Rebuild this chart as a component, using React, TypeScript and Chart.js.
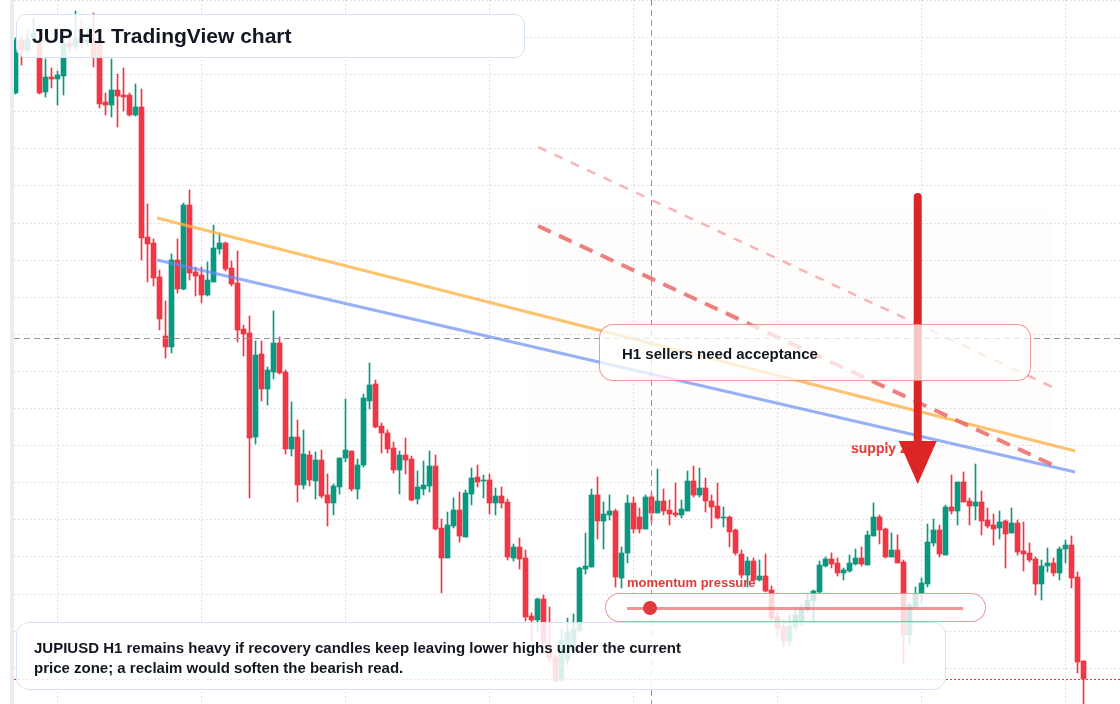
import React, { useEffect, useRef } from 'react';
import { Chart, registerables } from 'chart.js';

Chart.register(...registerables);

// JUPIUSD H1 candles (oldest -> newest)
const opens = [
  0.4907, 0.4960, 0.4950, 0.4962, 0.4957, 0.4908, 0.4923, 0.4921, 0.4924, 0.4957,
  0.4953, 0.4962, 0.4958, 0.4960, 0.4957, 0.4898, 0.4895, 0.4910, 0.4905, 0.4905,
  0.4885, 0.4893, 0.4763, 0.4757, 0.4723, 0.4664, 0.4653, 0.4740, 0.4711, 0.4795,
  0.4728, 0.4725, 0.4705, 0.4718, 0.4751, 0.4757, 0.4732, 0.4717, 0.4671, 0.4667,
  0.4563, 0.4646, 0.4611, 0.4628, 0.4657, 0.4628, 0.4551, 0.4563, 0.4515, 0.4545,
  0.4519, 0.4540, 0.4505, 0.4497, 0.4513, 0.4542, 0.4549, 0.4511, 0.4535, 0.4599,
  0.4616, 0.4574, 0.4567, 0.4552, 0.4530, 0.4545, 0.4541, 0.4501, 0.4511, 0.4514,
  0.4534, 0.4472, 0.4442, 0.4474, 0.4490, 0.4463, 0.4506, 0.4523, 0.4519, 0.4520,
  0.4497, 0.4504, 0.4498, 0.4442, 0.4453, 0.4442, 0.4384, 0.4380, 0.4401, 0.4355,
  0.4343, 0.4320, 0.4340, 0.4350, 0.4370, 0.4431, 0.4433, 0.4505, 0.4479, 0.4485,
  0.4489, 0.4422, 0.4447, 0.4497, 0.4483, 0.4471, 0.4503, 0.4487, 0.4499, 0.4490,
  0.4487, 0.4485, 0.4489, 0.4519, 0.4505, 0.4512, 0.4499, 0.4494, 0.4482, 0.4483,
  0.4470, 0.4446, 0.4425, 0.4439, 0.4420, 0.4424, 0.4410, 0.4383, 0.4373, 0.4359,
  0.4373, 0.4378, 0.4390, 0.4399, 0.4408, 0.4434, 0.4441, 0.4437, 0.4427, 0.4429,
  0.4436, 0.4442, 0.4435, 0.4464, 0.4483, 0.4471, 0.4443, 0.4450, 0.4438, 0.4365,
  0.4393, 0.4406, 0.4416, 0.4457, 0.4470, 0.4445, 0.4493, 0.4489, 0.4518, 0.4499,
  0.4494, 0.4498, 0.4480, 0.4475, 0.4472, 0.4479, 0.4467, 0.4477, 0.4449, 0.4447,
  0.4441, 0.4416, 0.4434, 0.4437, 0.4427, 0.4451, 0.4455, 0.4423, 0.4339,
];

const highs = [
  0.4962, 0.4964, 0.4970, 0.4982, 0.4960, 0.4941, 0.4932, 0.4929, 0.4960, 0.4964,
  0.4989, 0.4980, 0.4972, 0.4987, 0.4960, 0.4907, 0.4941, 0.4926, 0.4932, 0.4907,
  0.4916, 0.4911, 0.4796, 0.4761, 0.4730, 0.4699, 0.4746, 0.4761, 0.4797, 0.4810,
  0.4733, 0.4733, 0.4738, 0.4775, 0.4767, 0.4758, 0.4739, 0.4749, 0.4675, 0.4684,
  0.4659, 0.4659, 0.4633, 0.4689, 0.4663, 0.4630, 0.4598, 0.4580, 0.4570, 0.4549,
  0.4548, 0.4550, 0.4526, 0.4516, 0.4542, 0.4601, 0.4549, 0.4541, 0.4606, 0.4637,
  0.4620, 0.4577, 0.4570, 0.4558, 0.4549, 0.4562, 0.4544, 0.4529, 0.4539, 0.4549,
  0.4545, 0.4481, 0.4488, 0.4502, 0.4508, 0.4510, 0.4532, 0.4535, 0.4525, 0.4526,
  0.4512, 0.4513, 0.4501, 0.4456, 0.4462, 0.4450, 0.4387, 0.4402, 0.4405, 0.4393,
  0.4345, 0.4372, 0.4382, 0.4386, 0.4433, 0.4467, 0.4511, 0.4523, 0.4498, 0.4505,
  0.4491, 0.4453, 0.4505, 0.4503, 0.4492, 0.4505, 0.4507, 0.4531, 0.4511, 0.4500,
  0.4517, 0.4500, 0.4529, 0.4534, 0.4532, 0.4522, 0.4505, 0.4517, 0.4493, 0.4484,
  0.4471, 0.4450, 0.4443, 0.4442, 0.4440, 0.4446, 0.4414, 0.4388, 0.4380, 0.4385,
  0.4393, 0.4396, 0.4406, 0.4410, 0.4439, 0.4443, 0.4447, 0.4442, 0.4432, 0.4445,
  0.4451, 0.4453, 0.4469, 0.4497, 0.4485, 0.4472, 0.4467, 0.4465, 0.4440, 0.4397,
  0.4413, 0.4422, 0.4476, 0.4481, 0.4475, 0.4495, 0.4525, 0.4518, 0.4528, 0.4502,
  0.4536, 0.4509, 0.4492, 0.4486, 0.4489, 0.4480, 0.4492, 0.4480, 0.4478, 0.4457,
  0.4443, 0.4440, 0.4452, 0.4442, 0.4453, 0.4460, 0.4464, 0.4428, 0.4339,
];

const lows = [
  0.4906, 0.4935, 0.4948, 0.4960, 0.4906, 0.4903, 0.4912, 0.4895, 0.4905, 0.4948,
  0.4951, 0.4952, 0.4954, 0.4933, 0.4892, 0.4885, 0.4883, 0.4873, 0.4889, 0.4884,
  0.4884, 0.4740, 0.4718, 0.4714, 0.4670, 0.4642, 0.4647, 0.4707, 0.4710, 0.4720,
  0.4704, 0.4697, 0.4704, 0.4718, 0.4746, 0.4729, 0.4714, 0.4658, 0.4644, 0.4502,
  0.4556, 0.4599, 0.4595, 0.4621, 0.4626, 0.4546, 0.4544, 0.4498, 0.4511, 0.4514,
  0.4501, 0.4502, 0.4474, 0.4485, 0.4506, 0.4538, 0.4509, 0.4501, 0.4533, 0.4591,
  0.4572, 0.4547, 0.4547, 0.4527, 0.4506, 0.4526, 0.4499, 0.4496, 0.4505, 0.4508,
  0.4470, 0.4407, 0.4442, 0.4472, 0.4458, 0.4463, 0.4495, 0.4513, 0.4502, 0.4486,
  0.4485, 0.4492, 0.4440, 0.4439, 0.4431, 0.4379, 0.4360, 0.4368, 0.4355, 0.4338,
  0.4318, 0.4319, 0.4335, 0.4348, 0.4368, 0.4426, 0.4433, 0.4461, 0.4451, 0.4480,
  0.4413, 0.4412, 0.4437, 0.4467, 0.4467, 0.4471, 0.4477, 0.4487, 0.4485, 0.4475,
  0.4483, 0.4482, 0.4489, 0.4503, 0.4503, 0.4488, 0.4472, 0.4481, 0.4473, 0.4453,
  0.4445, 0.4422, 0.4413, 0.4419, 0.4419, 0.4408, 0.4380, 0.4364, 0.4353, 0.4354,
  0.4370, 0.4374, 0.4388, 0.4377, 0.4407, 0.4433, 0.4432, 0.4424, 0.4420, 0.4428,
  0.4435, 0.4434, 0.4435, 0.4464, 0.4456, 0.4442, 0.4443, 0.4437, 0.4337, 0.4355,
  0.4393, 0.4397, 0.4413, 0.4454, 0.4443, 0.4445, 0.4486, 0.4475, 0.4498, 0.4475,
  0.4480, 0.4465, 0.4472, 0.4455, 0.4461, 0.4432, 0.4467, 0.4445, 0.4429, 0.4438,
  0.4405, 0.4400, 0.4428, 0.4424, 0.4420, 0.4437, 0.4412, 0.4327, 0.4295,
];

const closes = [
  0.4960, 0.4950, 0.4961, 0.4967, 0.4907, 0.4923, 0.4921, 0.4925, 0.4957, 0.4953,
  0.4962, 0.4958, 0.4960, 0.4943, 0.4896, 0.4895, 0.4910, 0.4904, 0.4903, 0.4885,
  0.4893, 0.4762, 0.4756, 0.4722, 0.4681, 0.4653, 0.4740, 0.4711, 0.4795, 0.4727,
  0.4724, 0.4705, 0.4720, 0.4752, 0.4757, 0.4731, 0.4716, 0.4670, 0.4666, 0.4562,
  0.4645, 0.4611, 0.4630, 0.4657, 0.4627, 0.4551, 0.4563, 0.4515, 0.4546, 0.4520,
  0.4540, 0.4504, 0.4497, 0.4514, 0.4542, 0.4550, 0.4511, 0.4535, 0.4602, 0.4615,
  0.4573, 0.4567, 0.4551, 0.4530, 0.4545, 0.4540, 0.4500, 0.4513, 0.4515, 0.4534,
  0.4471, 0.4442, 0.4475, 0.4490, 0.4464, 0.4507, 0.4522, 0.4518, 0.4520, 0.4497,
  0.4504, 0.4497, 0.4443, 0.4453, 0.4441, 0.4383, 0.4380, 0.4401, 0.4357, 0.4342,
  0.4319, 0.4360, 0.4368, 0.4371, 0.4432, 0.4434, 0.4505, 0.4479, 0.4486, 0.4489,
  0.4423, 0.4447, 0.4497, 0.4471, 0.4471, 0.4503, 0.4487, 0.4499, 0.4489, 0.4486,
  0.4485, 0.4491, 0.4519, 0.4505, 0.4512, 0.4499, 0.4493, 0.4482, 0.4483, 0.4468,
  0.4447, 0.4425, 0.4439, 0.4420, 0.4424, 0.4409, 0.4382, 0.4372, 0.4359, 0.4374,
  0.4385, 0.4391, 0.4400, 0.4409, 0.4435, 0.4441, 0.4436, 0.4427, 0.4430, 0.4437,
  0.4442, 0.4436, 0.4465, 0.4483, 0.4470, 0.4443, 0.4450, 0.4437, 0.4365, 0.4395,
  0.4406, 0.4417, 0.4458, 0.4470, 0.4446, 0.4493, 0.4489, 0.4518, 0.4498, 0.4494,
  0.4498, 0.4479, 0.4474, 0.4471, 0.4478, 0.4466, 0.4477, 0.4448, 0.4446, 0.4440,
  0.4416, 0.4434, 0.4437, 0.4427, 0.4451, 0.4455, 0.4422, 0.4338, 0.4321,
];

// drawn annotations, anchored in (candle index, price)
const resistanceTrend = [{ x: 23.6, y: 0.4782 }, { x: 176.6, y: 0.4549 }];
const supportTrend = [{ x: 23.6, y: 0.474 }, { x: 176.6, y: 0.4528 }];
const sellerPath = [{ x: 87.1, y: 0.4774 }, { x: 172.9, y: 0.4535 }];
const sellerPathOuter = [{ x: 87.1, y: 0.4853 }, { x: 172.8, y: 0.4613 }];
const supplyZone = [85.25, 172.75, 0.4792, 0.452]; // from, to, top, bottom
const supplyArrow = [150.37, 0.4803, 0.4516]; // index, tail, tip
const crosshair = [106, 0.4662]; // index, price

// axis framing: hourly candles, daily separators
const dayStarts = [7, 31, 55, 79, 103, 127, 151, 175];
const PRICE_MAX = 0.5;
const PRICE_MIN = 0.4296;
const PRICE_STEP = 0.00371;
const INDEX_MIN = -0.25;
const INDEX_MAX = 184.0833;

const UP = '#089981';
const DOWN = '#f23645';
const FONT = '"Liberation Sans", Arial, Helvetica, sans-serif';

const overlayPlugin = {
  id: 'overlay',
  beforeDatasetsDraw(chart: any) {
    const { ctx, chartArea, scales } = chart;
    const x = scales.x;
    const y = scales.y;
    ctx.save();
    // panel edge on the left
    ctx.fillStyle = '#ececec';
    ctx.fillRect(chartArea.left - 4, 0, 4, chart.height);

    ctx.beginPath();
    ctx.rect(chartArea.left, chartArea.top, chartArea.width, chartArea.height);
    ctx.clip();

    // dotted grid
    ctx.strokeStyle = '#d4d7dd';
    ctx.lineWidth = 1;
    ctx.setLineDash([1.5, 2.5]);
    for (let p = PRICE_MAX; p > PRICE_MIN; p -= PRICE_STEP) {
      const py = Math.round(y.getPixelForValue(p)) + 0.5;
      ctx.beginPath();
      ctx.moveTo(chartArea.left, py);
      ctx.lineTo(chartArea.right, py);
      ctx.stroke();
    }
    dayStarts.forEach((i) => {
      const px = Math.floor(x.getPixelForValue(i)) + 0.5;
      ctx.beginPath();
      ctx.moveTo(px, chartArea.top);
      ctx.lineTo(px, chartArea.bottom);
      ctx.stroke();
    });

    // supply zone shading
    ctx.setLineDash([]);
    const zx0 = x.getPixelForValue(supplyZone[0]);
    const zx1 = x.getPixelForValue(supplyZone[1]);
    const zy0 = y.getPixelForValue(supplyZone[2]);
    const zy1 = y.getPixelForValue(supplyZone[3]);
    ctx.fillStyle = 'rgba(236, 150, 110, 0.02)';
    ctx.beginPath();
    ctx.roundRect(zx0, zy0, zx1 - zx0, zy1 - zy0, 14);
    ctx.fill();
    ctx.restore();
  },
  afterDatasetsDraw(chart: any) {
    const { ctx, chartArea, scales } = chart;
    const x = scales.x;
    const y = scales.y;
    ctx.save();
    ctx.beginPath();
    ctx.rect(chartArea.left, chartArea.top, chartArea.width, chartArea.height);
    ctx.clip();

    // crosshair
    ctx.strokeStyle = '#9598a1';
    ctx.lineWidth = 1;
    ctx.setLineDash([6, 4]);
    const cx = Math.floor(x.getPixelForValue(crosshair[0])) + 0.5;
    const cy = Math.round(y.getPixelForValue(crosshair[1])) + 0.5;
    ctx.beginPath();
    ctx.moveTo(cx, chartArea.top);
    ctx.lineTo(cx, chartArea.bottom);
    ctx.moveTo(chartArea.left, cy);
    ctx.lineTo(chartArea.right, cy);
    ctx.stroke();

    // last price line
    const ly = Math.round(y.getPixelForValue(closes[closes.length - 1])) + 0.5;
    ctx.strokeStyle = DOWN;
    ctx.setLineDash([2, 2]);
    ctx.beginPath();
    ctx.moveTo(chartArea.left, ly);
    ctx.lineTo(chartArea.right, ly);
    ctx.stroke();

    // supply arrow
    ctx.setLineDash([]);
    const ax = x.getPixelForValue(supplyArrow[0]);
    const tail = y.getPixelForValue(supplyArrow[1]);
    const tip = y.getPixelForValue(supplyArrow[2]);
    ctx.strokeStyle = '#dc2626';
    ctx.fillStyle = '#dc2626';
    ctx.lineWidth = 8;
    ctx.lineCap = 'round';
    ctx.beginPath();
    ctx.moveTo(ax, tail);
    ctx.lineTo(ax, tip - 40);
    ctx.stroke();
    ctx.beginPath();
    ctx.moveTo(ax - 19, tip - 43);
    ctx.lineTo(ax + 19, tip - 43);
    ctx.lineTo(ax, tip);
    ctx.closePath();
    ctx.fill();
    ctx.restore();
  },
};

const JupCandleChart: React.FC = () => {
  const canvasRef = useRef<HTMLCanvasElement>(null);

  useEffect(() => {
    if (!canvasRef.current) return;
    const idx = opens.map((_, i) => i);
    const bodies = idx.map((i) => ({ x: i, y: [opens[i], closes[i]] }));
    const wicks = idx.map((i) => ({ x: i, y: [lows[i], highs[i]] }));
    const colors = idx.map((i) => (closes[i] >= opens[i] ? UP : DOWN));

    const trend = (data: any, color: string, width: number, dash: number[]) => ({
      type: 'line',
      data,
      borderColor: color,
      borderWidth: width,
      borderDash: dash,
      borderCapStyle: 'butt',
      pointRadius: 0,
      fill: false,
      tension: 0,
      order: 0,
    });

    const chart = new Chart(canvasRef.current, {
      type: 'bar',
      data: {
        datasets: [
          trend(sellerPathOuter, 'rgba(244, 150, 150, 0.7)', 2.5, [9, 9]),
          trend(sellerPath, 'rgba(234, 96, 96, 0.8)', 4, [14, 9]),
          trend(resistanceTrend, 'rgba(252, 178, 70, 0.78)', 3, []),
          trend(supportTrend, 'rgba(100, 140, 245, 0.68)', 3, []),
          {
            type: 'bar',
            data: bodies,
            backgroundColor: colors,
            barThickness: 5,
            grouped: false,
            borderWidth: 0,
            borderSkipped: false,
            order: 1,
          },
          {
            type: 'bar',
            data: wicks,
            backgroundColor: colors,
            barThickness: 1,
            grouped: false,
            borderWidth: 0,
            borderSkipped: false,
            order: 2,
          },
        ] as any,
      },
      options: {
        responsive: false,
        animation: false,
        events: [],
        layout: { padding: { left: 14, right: 0, top: 0, bottom: 0 } },
        scales: {
          x: { type: 'linear', min: INDEX_MIN, max: INDEX_MAX, display: false, offset: false },
          y: { type: 'linear', min: PRICE_MIN, max: PRICE_MAX, display: false },
        },
        plugins: { legend: { display: false }, tooltip: { enabled: false } },
      } as any,
      plugins: [overlayPlugin],
    });

    return () => {
      chart.destroy();
    };
  }, []);

  return <canvas ref={canvasRef} width={1120} height={704} style={{ display: 'block' }} />;
};

const box = (left: number, top: number, width: number, height: number, border: string, radius: number, bg: string): React.CSSProperties => ({
  position: 'absolute',
  left,
  top,
  width,
  height,
  boxSizing: 'border-box',
  border,
  borderRadius: radius,
  background: bg,
});

const text = (left: number, top: number, size: number, color: string): React.CSSProperties => ({
  position: 'absolute',
  left,
  top,
  fontSize: size,
  lineHeight: `${size}px`,
  fontWeight: 700,
  color,
  whiteSpace: 'nowrap',
});

export default function App() {
  return (
    <div style={{ position: 'absolute', left: 0, top: 0, width: 1120, height: 704, overflow: 'hidden', background: '#ffffff', fontFamily: FONT }}>
      <div style={text(851, 441, 14, '#e23b3b')}>supply zone</div>
      <div style={{ position: 'absolute', left: 0, top: 0 }}>
        <JupCandleChart />
      </div>

      <div style={box(16, 14, 509, 44, '1.5px solid #d6e2f6', 10, 'rgba(255,255,255,0.86)')} />
      <div style={text(32, 25, 21, '#131722')}>JUP H1 TradingView chart</div>

      <div style={box(599, 324, 432, 57, '1px solid rgba(226, 70, 70, 0.55)', 14, 'rgba(255,255,255,0.74)')} />
      <div style={text(622, 346, 15, '#131722')}>H1 sellers need acceptance</div>

      <div style={text(627, 576, 13, '#e23b3b')}>momentum pressure</div>
      <div style={box(605, 593, 381, 29, '1px solid rgba(226, 70, 70, 0.55)', 15, 'rgba(255,255,255,0.8)')}>
        <div style={{ position: 'absolute', left: 21, top: 12.5, width: 336, height: 3, background: 'rgba(232, 80, 80, 0.6)' }} />
        <div style={{ position: 'absolute', left: 37, top: 7, width: 14, height: 14, borderRadius: 7, background: '#e03a3a' }} />
      </div>

      <div style={box(16, 622, 930, 68, '1.5px solid #d6e2f6', 13, 'rgba(255,255,255,0.85)')} />
      <div style={{ ...text(34, 638, 15, '#131722'), lineHeight: '19.6px' }}>
        JUPIUSD H1 remains heavy if recovery candles keep leaving lower highs under the current
        <br />
        price zone; a reclaim would soften the bearish read.
      </div>
    </div>
  );
}
